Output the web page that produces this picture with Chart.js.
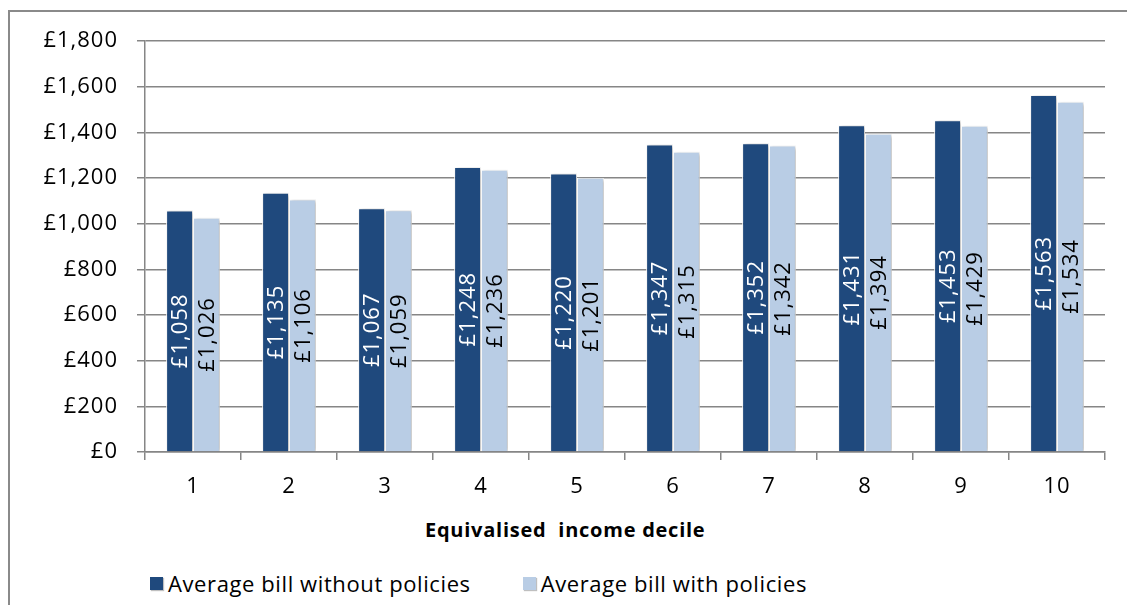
<!DOCTYPE html>
<html>
<head>
<meta charset="utf-8">
<script src="https://cdn.jsdelivr.net/npm/chart.js@4.4.1/dist/chart.umd.min.js"></script>
<style>
    html, body { margin: 0; padding: 0; background: #fff; }
    body { width: 1127px; height: 605px; position: relative; overflow: hidden; font-family: 'Open Sans', sans-serif; }
    #frame { position: absolute; left: 8px; top: 10px; width: 1200px; height: 700px; border: 2px solid #8a8a8a; box-sizing: border-box; }
    #chartCanvas { position: absolute; left: 0; top: 0; }
    #axisTitle { position: absolute; left: 425px; top: 516px; font-weight: bold; font-size: 20px; letter-spacing: 0.75px; color: #000; white-space: pre; }
    #legend { position: absolute; left: 150px; top: 568px; display: flex; font-size: 22px; letter-spacing: 0.6px; color: #000; }
    .legend-item { display: flex; align-items: center; margin-right: 52px; }
    .legend-box { width: 13px; height: 13px; margin-right: 5px; box-shadow: 1px 1px 1px rgba(0,0,0,0.25); }
</style>
</head>
<body>
<div id="frame"></div>
<canvas id="chartCanvas" width="1127" height="500"></canvas>
<div id="axisTitle"></div>
<div id="legend"></div>
<script>
// Chart data
const deciles = ['1', '2', '3', '4', '5', '6', '7', '8', '9', '10'];
const billWithout = [1058, 1135, 1067, 1248, 1220, 1347, 1352, 1431, 1453, 1563];
const billWith = [1026, 1106, 1059, 1236, 1201, 1315, 1342, 1394, 1429, 1534];
const seriesLabels = ['Average bill without policies', 'Average bill with policies'];
const seriesColors = ['#1F497D', '#B9CDE5'];
const labelColors = ['#ffffff', '#000000'];
const xAxisTitle = 'Equivalised  income decile';

const gridColor = '#868686';
const fontFamily = "'Open Sans', sans-serif";

function pounds(v) {
    return '£' + v.toLocaleString('en-GB');
}

// Soft shadow behind the bars, then the rotated value labels on top
const barLabels = {
    id: 'barLabels',
    beforeDraw(chart) {
        // slightly wider text, closer to the original Calibri
        chart.ctx.letterSpacing = '1px';
    },
    beforeDatasetsDraw(chart) {
        const ctx = chart.ctx;
        ctx.save();
        ctx.shadowColor = 'rgba(0,0,0,0.28)';
        ctx.shadowBlur = 4;
        ctx.shadowOffsetX = 2;
        ctx.shadowOffsetY = 1;
    },
    afterDatasetsDraw(chart) {
        const ctx = chart.ctx;
        ctx.restore();
        ctx.save();
        ctx.font = '22px ' + fontFamily;
        ctx.letterSpacing = '1px';
        ctx.textAlign = 'center';
        ctx.textBaseline = 'middle';
        chart.data.datasets.forEach((ds, i) => {
            const meta = chart.getDatasetMeta(i);
            ctx.fillStyle = labelColors[i];
            meta.data.forEach((bar, j) => {
                const midY = (bar.y + bar.base) / 2;
                ctx.save();
                ctx.translate(bar.x + 1, midY);
                ctx.rotate(-Math.PI / 2);
                ctx.fillText(pounds(ds.data[j]), 0, 0);
                ctx.restore();
            });
        });
        ctx.restore();
    }
};

const ctx = document.getElementById('chartCanvas').getContext('2d');
const chart = new Chart(ctx, {
    type: 'bar',
    data: {
        labels: deciles,
        datasets: [
            { label: seriesLabels[0], data: billWithout, backgroundColor: seriesColors[0], borderColor: '#ffffff', borderWidth: 1 },
            { label: seriesLabels[1], data: billWith, backgroundColor: seriesColors[1], borderColor: '#ffffff', borderWidth: 1 }
        ]
    },
    options: {
        responsive: false,
        animation: false,
        devicePixelRatio: 1,
        layout: { padding: { top: 41, right: 22, left: 0, bottom: 0 } },
        datasets: {
            bar: { categoryPercentage: 0.56, barPercentage: 1.0 }
        },
        plugins: {
            legend: { display: false },
            tooltip: { enabled: false }
        },
        scales: {
            x: {
                grid: { display: true, drawOnChartArea: false, drawTicks: true, tickLength: 8, color: gridColor, lineWidth: 1.5, offset: true },
                border: { display: true, color: gridColor, width: 1.5 },
                ticks: { color: '#000', padding: 14, font: { family: fontFamily, size: 22 } },
                afterFit: (s) => { s.height = 48; }
            },
            y: {
                min: 0,
                max: 1800,
                grid: { color: gridColor, lineWidth: 1.5, tickLength: 8, drawTicks: true },
                border: { display: true, color: gridColor, width: 1.5 },
                ticks: {
                    stepSize: 200,
                    color: '#000',
                    padding: 19,
                    font: { family: fontFamily, size: 22 },
                    callback: (v) => pounds(v)
                },
                afterFit: (s) => { s.width = 145; }
            }
        }
    },
    plugins: [barLabels]
});

// Axis title and legend as page text
document.getElementById('axisTitle').textContent = xAxisTitle;
const legendEl = document.getElementById('legend');
seriesLabels.forEach((label, i) => {
    const item = document.createElement('div');
    item.className = 'legend-item';
    const box = document.createElement('span');
    box.className = 'legend-box';
    box.style.background = seriesColors[i];
    const text = document.createElement('span');
    text.textContent = label;
    item.appendChild(box);
    item.appendChild(text);
    legendEl.appendChild(item);
});
</script>
</body>
</html>
